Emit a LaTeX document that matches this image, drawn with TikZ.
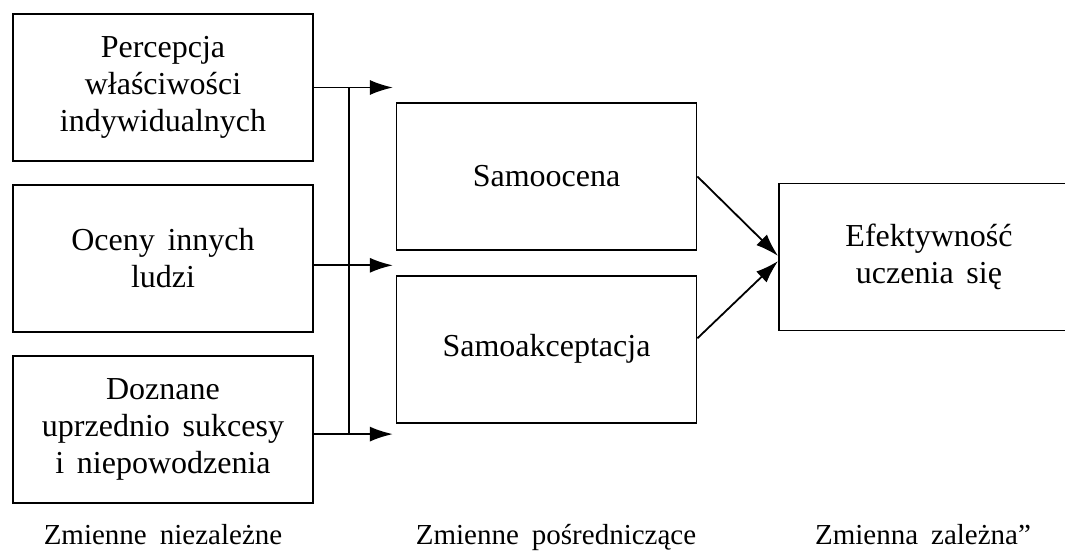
\documentclass[tikz,border=0pt]{standalone}
\usepackage{fontspec}
\setmainfont{Liberation Serif}
\usetikzlibrary{arrows.meta,positioning}
\newcommand{\boxfont}{\fontsize{32}{37}\selectfont\spaceskip=0.4em\relax}
\newcommand{\labfont}{\fontsize{29}{34}\selectfont\spaceskip=0.45em\relax}

\begin{document}
\begin{tikzpicture}[x=1pt,y=1pt, line width=1.8pt,
		>={Latex[length=23pt,width=15pt]},
		box/.style = {draw, rectangle, inner sep=0pt, minimum width=300pt, minimum height=147pt, align=center, font=\boxfont},
		lab/.style = {anchor=base, font=\labfont}]
		\clip (0,0) rectangle (1065,552);
		\node[box] (per) at (163,464.5) {Percepcja\\właściwości\\indywidualnych};
		\node[box] (oce) [below=22pt of per] {Oceny innych\\ludzi};
		\node[box] (doz) [below=22pt of oce] {Doznane\\uprzednio sukcesy\\i niepowodzenia};
		\node[box] (sam) at (546.5,375.5) {Samoocena};
		\node[box] (akc) [below=24pt of sam] {Samoakceptacja};
		\node[box] (efe) at (929,295) {Efektywność\\uczenia się};
		\node[lab] (niez) at (163,8) {Zmienne niezależne};
		\node[lab] (posr) at (556,8) {Zmienne pośredniczące};
		\node[lab] (zal) at (923,8) {Zmienna zależna”};
		\coordinate (p1) at ([xshift=79pt]per.east);
		\coordinate (o0) at ([yshift=-7pt]oce.east);
		\coordinate (o1) at ([xshift=79pt]o0);
		\coordinate (d0) at ([yshift=-5pt]doz.east);
		\coordinate (d1) at ([xshift=79pt]d0);
		\coordinate (bt) at ([xshift=35pt]per.east);
		\coordinate (bb) at ([xshift=35pt]d0);
		\draw[->] (per.east) -- (p1);
		\draw[->] (o0) -- (o1);
		\draw[->] (d0) -- (d1);
		\draw (bt) -- (bb);
		\draw[->] (sam.east) -- ([yshift=1pt]efe.west);
		\draw[->] ([yshift=11pt]akc.east) -- ([yshift=-4pt]efe.west);
	\end{tikzpicture}
\end{document}
